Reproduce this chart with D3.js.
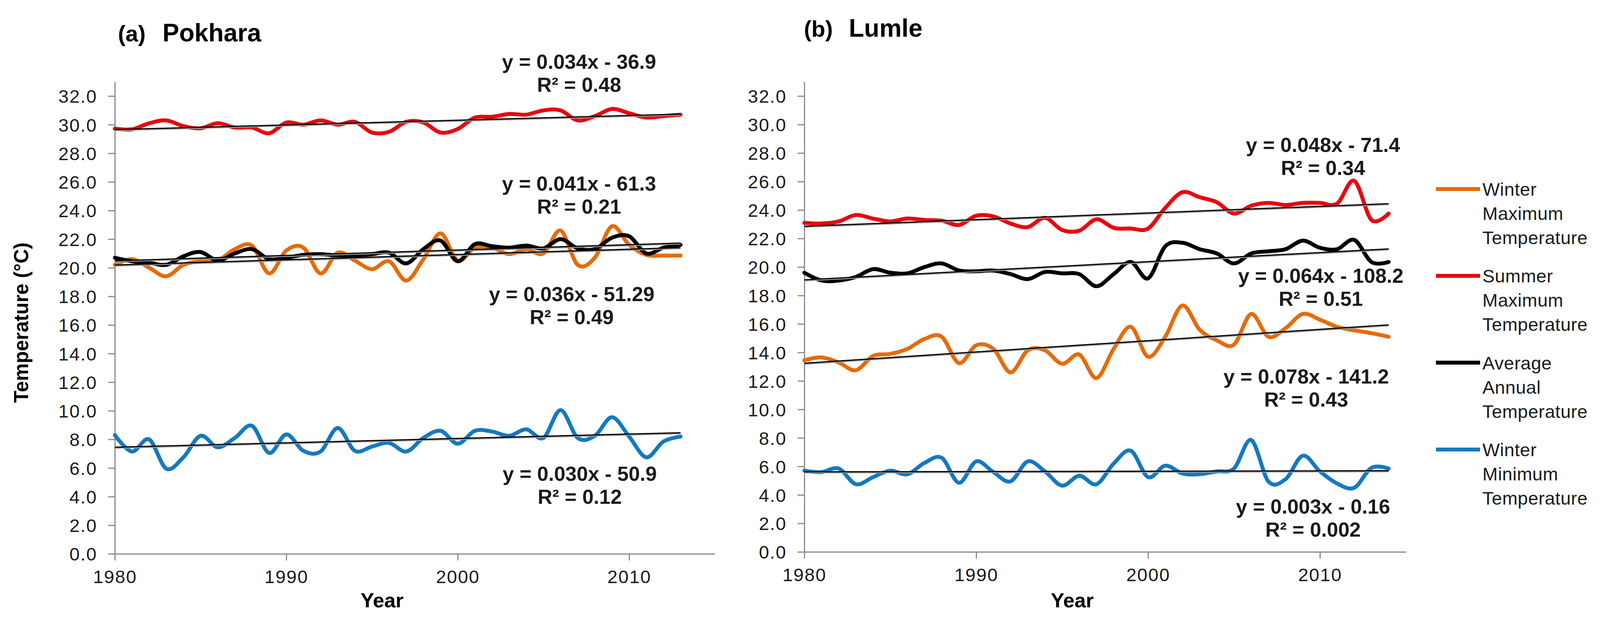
<!DOCTYPE html>
<html>
<head>
<meta charset="utf-8">
<script src="https://cdn.jsdelivr.net/npm/d3@7/dist/d3.min.js"></script>
<style>
  body { margin: 0; background: #fff; }
  svg { font-family: 'Liberation Sans', Arial, sans-serif; display: block; }
</style>
</head>
<body>
<svg id="chart"></svg>
<script>
/* global d3 */

// ---- data ----
const pokharaYears = [1980, 1981, 1982, 1983, 1984, 1985, 1986, 1987, 1988, 1989,
  1990, 1991, 1992, 1993, 1994, 1995, 1996, 1997, 1998, 1999,
  2000, 2001, 2002, 2003, 2004, 2005, 2006, 2007, 2008, 2009,
  2010, 2011, 2012, 2013]
const lumleYears = pokharaYears.concat([2014])

const pokharaWinterMax = [20.2, 20.6, 20.0, 19.4, 20.2, 20.45, 20.5, 21.3, 21.55, 19.6,
  21.2, 21.4, 19.6, 21.05, 20.5, 19.9, 20.45, 19.1, 20.6, 22.4,
  20.5, 21.4, 21.4, 20.95, 21.3, 21.0, 22.6, 20.2, 20.7, 22.9,
  21.6, 20.9, 20.85, 20.85]
const pokharaSummerMax = [29.73, 29.68, 30.1, 30.3, 29.9, 29.75, 30.1, 29.8, 29.8, 29.4,
  30.15, 30.0, 30.3, 30.0, 30.2, 29.45, 29.5, 30.2, 30.15, 29.45,
  29.7, 30.5, 30.55, 30.75, 30.7, 31.0, 31.0, 30.3, 30.6, 31.1,
  30.8, 30.5, 30.6, 30.7]
const pokharaAverage = [20.7, 20.45, 20.35, 20.2, 20.8, 21.1, 20.5, 21.0, 21.3, 20.6,
  20.7, 20.9, 20.95, 20.85, 20.85, 20.95, 21.05, 20.3, 21.3, 21.9,
  20.45, 21.65, 21.5, 21.4, 21.55, 21.35, 22.0, 21.35, 21.3, 22.1,
  22.2, 21.0, 21.4, 21.6]
const pokharaWinterMin = [8.3, 7.15, 8.0, 5.95, 6.75, 8.25, 7.45, 8.1, 8.95, 7.05,
  8.35, 7.2, 7.15, 8.8, 7.2, 7.5, 7.75, 7.15, 8.1, 8.6,
  7.7, 8.6, 8.55, 8.25, 8.7, 8.1, 10.05, 8.1, 8.25, 9.55,
  8.2, 6.75, 7.85, 8.2]

const lumleWinterMax = [13.45, 13.65, 13.3, 12.75, 13.75, 13.9, 14.25, 14.95, 15.1, 13.25,
  14.5, 14.25, 12.6, 14.15, 14.15, 13.2, 13.85, 12.2, 14.25, 15.8,
  13.7, 15.1, 17.3, 15.6, 14.85, 14.55, 16.7, 15.1, 15.7, 16.7,
  16.3, 15.8, 15.55, 15.35, 15.1]
const lumleSummerMax = [23.1, 23.05, 23.2, 23.65, 23.4, 23.2, 23.4, 23.3, 23.25, 22.95,
  23.6, 23.55, 23.05, 22.8, 23.45, 22.6, 22.55, 23.35, 22.75, 22.7,
  22.7, 24.15, 25.25, 24.9, 24.55, 23.75, 24.3, 24.5, 24.35, 24.5,
  24.5, 24.45, 26.05, 23.3, 23.75]
const lumleAverage = [19.6, 19.05, 19.05, 19.3, 19.85, 19.6, 19.55, 20.0, 20.25, 19.75,
  19.7, 19.75, 19.5, 19.15, 19.65, 19.55, 19.5, 18.65, 19.5, 20.35,
  19.2, 21.45, 21.7, 21.25, 20.95, 20.25, 20.95, 21.1, 21.25, 21.85,
  21.35, 21.25, 21.9, 20.35, 20.35]
const lumleWinterMin = [5.7, 5.6, 5.85, 4.75, 5.25, 5.7, 5.45, 6.25, 6.6, 4.85,
  6.35, 5.6, 4.95, 6.35, 5.65, 4.65, 5.35, 4.75, 6.2, 7.1,
  5.25, 6.05, 5.5, 5.45, 5.65, 5.85, 7.85, 4.95, 5.1, 6.75,
  5.65, 4.8, 4.5, 5.9, 5.85]

const yTicks = [0, 2, 4, 6, 8, 10, 12, 14, 16, 18, 20, 22, 24, 26, 28, 30, 32]
const xTicks = [1980, 1990, 2000, 2010]

const pokharaEquations = ['y = 0.034x - 36.9', 'y = 0.041x - 61.3', 'y = 0.036x - 51.29', 'y = 0.030x - 50.9']
const pokharaR2 = ['R² = 0.48', 'R² = 0.21', 'R² = 0.49', 'R² = 0.12']
const lumleEquations = ['y = 0.048x - 71.4', 'y = 0.064x - 108.2', 'y = 0.078x - 141.2', 'y = 0.003x - 0.16']
const lumleR2 = ['R² = 0.34', 'R² = 0.51', 'R² = 0.43', 'R² = 0.002']

const seriesNames = ['Winter Maximum Temperature', 'Summer Maximum Temperature',
  'Average Annual Temperature', 'Winter Minimum Temperature']

document.addEventListener('DOMContentLoaded', function () {
  const width = 4142
  const height = 1590

  const colours = {
    orange: '#E46C0A',
    red: '#E8070F',
    black: '#000000',
    blue: '#1479C1',
    axis: '#8A8A8A',
    trendShadow: '#9A9A9A',
    text: '#1a1a1a'
  }
  const seriesColours = [colours.orange, colours.red, colours.black, colours.blue]

  const svg = d3.select('#chart')
    .attr('width', width)
    .attr('height', height)

  svg.append('rect').attr('width', width).attr('height', height).attr('fill', '#fff')

  const panels = [
    {
      title: '(a)', name: 'Pokhara', titleX: 302, nameX: 416, titleY: 106,
      years: pokharaYears,
      series: [pokharaWinterMax, pokharaSummerMax, pokharaAverage, pokharaWinterMin],
      xRange: [294, 1830], yBottom: 1418, yUnit: 36.625,
      equations: pokharaEquations, r2: pokharaR2,
      // label anchors in data units: [year, temperature]
      labelAt: [[2007.08, 33.91], [2007.08, 25.39], [2006.65, 17.67], [2007.12, 5.11]],
      yTitle: true
    },
    {
      title: '(b)', name: 'Lumle', titleX: 2058, nameX: 2173, titleY: 94,
      years: lumleYears,
      series: [lumleWinterMax, lumleSummerMax, lumleAverage, lumleWinterMin],
      xRange: [2059, 3599], yBottom: 1413, yUnit: 36.47,
      equations: lumleEquations, r2: lumleR2,
      labelAt: [[2010.18, 28.08], [2010.05, 18.89], [2009.2, 11.82], [2009.6, 2.69]],
      yTitle: false
    }
  ]

  const fit = (xs, ys) => {
    const mx = d3.mean(xs)
    const my = d3.mean(ys)
    const b = d3.sum(xs, (x, i) => (x - mx) * (ys[i] - my)) / d3.sum(xs, x => (x - mx) * (x - mx))
    return { slope: b, intercept: my - b * mx }
  }

  const drawPanel = (p) => {
    const x = d3.scaleLinear().domain([1980, 2015]).range(p.xRange)
    const y = d3.scaleLinear().domain([0, 33]).range([p.yBottom, p.yBottom - 33 * p.yUnit])
    const g = svg.append('g').attr('class', 'panel-' + p.name)

    // axes
    const yAxis = g.append('g')
      .attr('transform', 'translate(' + p.xRange[0] + ',0)')
      .call(d3.axisLeft(y).tickValues(yTicks).tickFormat(d3.format('.1f'))
        .tickSize(17).tickPadding(28).tickSizeOuter(0))
    const xAxis = g.append('g')
      .attr('transform', 'translate(0,' + p.yBottom + ')')
      .call(d3.axisBottom(x).tickValues(xTicks).tickFormat(d3.format('d'))
        .tickSize(17).tickPadding(24).tickSizeOuter(0))
    ;[yAxis, xAxis].forEach(a => {
      a.select('.domain').attr('stroke', colours.axis).attr('stroke-width', 3)
      a.selectAll('.tick line').attr('stroke', colours.axis).attr('stroke-width', 3)
      a.selectAll('.tick text').attr('fill', colours.text)
        .style('font-size', '47px').style('letter-spacing', '2px')
    })
    yAxis.selectAll('.tick text').attr('dy', '0.36em')
    xAxis.selectAll('.tick text').attr('dy', '0.72em')

    // series
    const line = d3.line()
      .x(d => x(d[0]))
      .y(d => y(d[1]))
      .curve(d3.curveCardinal.tension(0))
    p.series.forEach((vals, i) => {
      g.append('path')
        .datum(p.years.map((yr, j) => [yr, vals[j]]))
        .attr('d', line)
        .attr('fill', 'none')
        .attr('stroke', seriesColours[i])
        .attr('stroke-width', 10)
        .attr('stroke-linejoin', 'round')
        .attr('stroke-linecap', 'round')
    })

    // linear trendlines
    const x0 = p.years[0]
    const x1 = p.years[p.years.length - 1]
    p.series.forEach(vals => {
      const f = fit(p.years, vals)
      const pts = [[x0, f.intercept + f.slope * x0], [x1, f.intercept + f.slope * x1]]
      g.append('path').datum(pts)
        .attr('d', d3.line().x(d => x(d[0])).y(d => y(d[1]) + 2))
        .attr('stroke', colours.trendShadow).attr('stroke-width', 4).attr('fill', 'none')
      g.append('path').datum(pts)
        .attr('d', d3.line().x(d => x(d[0])).y(d => y(d[1])))
        .attr('stroke', '#000').attr('stroke-width', 3).attr('fill', 'none')
    })

    // equation labels
    p.equations.forEach((eq, i) => {
      const t = g.append('text')
        .attr('x', x(p.labelAt[i][0]))
        .attr('y', y(p.labelAt[i][1]))
        .attr('text-anchor', 'middle')
        .attr('fill', colours.text)
        .style('font-size', '52px')
        .style('font-weight', 'bold')
      t.append('tspan').text(eq)
      t.append('tspan').attr('x', x(p.labelAt[i][0])).attr('dy', 59).text(p.r2[i])
    })

    // titles
    g.append('text').attr('x', p.titleX).attr('y', p.titleY)
      .style('font-size', '58px').style('font-weight', 'bold').text(p.title)
    g.append('text').attr('x', p.nameX).attr('y', p.titleY)
      .style('font-size', '64px').style('font-weight', 'bold').text(p.name)

    g.append('text')
      .attr('x', (p.xRange[0] + p.xRange[1]) / 2 - 84)
      .attr('y', 1555)
      .attr('text-anchor', 'middle')
      .style('font-size', '52px').style('font-weight', 'bold')
      .text('Year')

    if (p.yTitle) {
      g.append('text')
        .attr('transform', 'translate(72,' + 826 + ') rotate(-90)')
        .attr('text-anchor', 'middle')
        .style('font-size', '51px').style('font-weight', 'bold')
        .text('Temperature (°C)')
    }
  }

  panels.forEach(drawPanel)

  // legend
  const legend = svg.append('g').attr('transform', 'translate(3676,484)')
  seriesNames.forEach((name, i) => {
    const item = legend.append('g').attr('transform', 'translate(0,' + i * 222.3 + ')')
    item.append('line').attr('x1', 0).attr('x2', 113).attr('y1', 0).attr('y2', 0)
      .attr('stroke', seriesColours[i]).attr('stroke-width', 10)
    const t = item.append('text').attr('x', 119).attr('y', 17)
      .attr('fill', colours.text)
      .style('font-size', '47px').style('letter-spacing', '0.5px')
    name.split(' ').forEach((w, k) => {
      t.append('tspan').attr('x', 119).attr('dy', k === 0 ? 0 : 62).text(w)
    })
  })
}, false)
</script>
</body>
</html>
